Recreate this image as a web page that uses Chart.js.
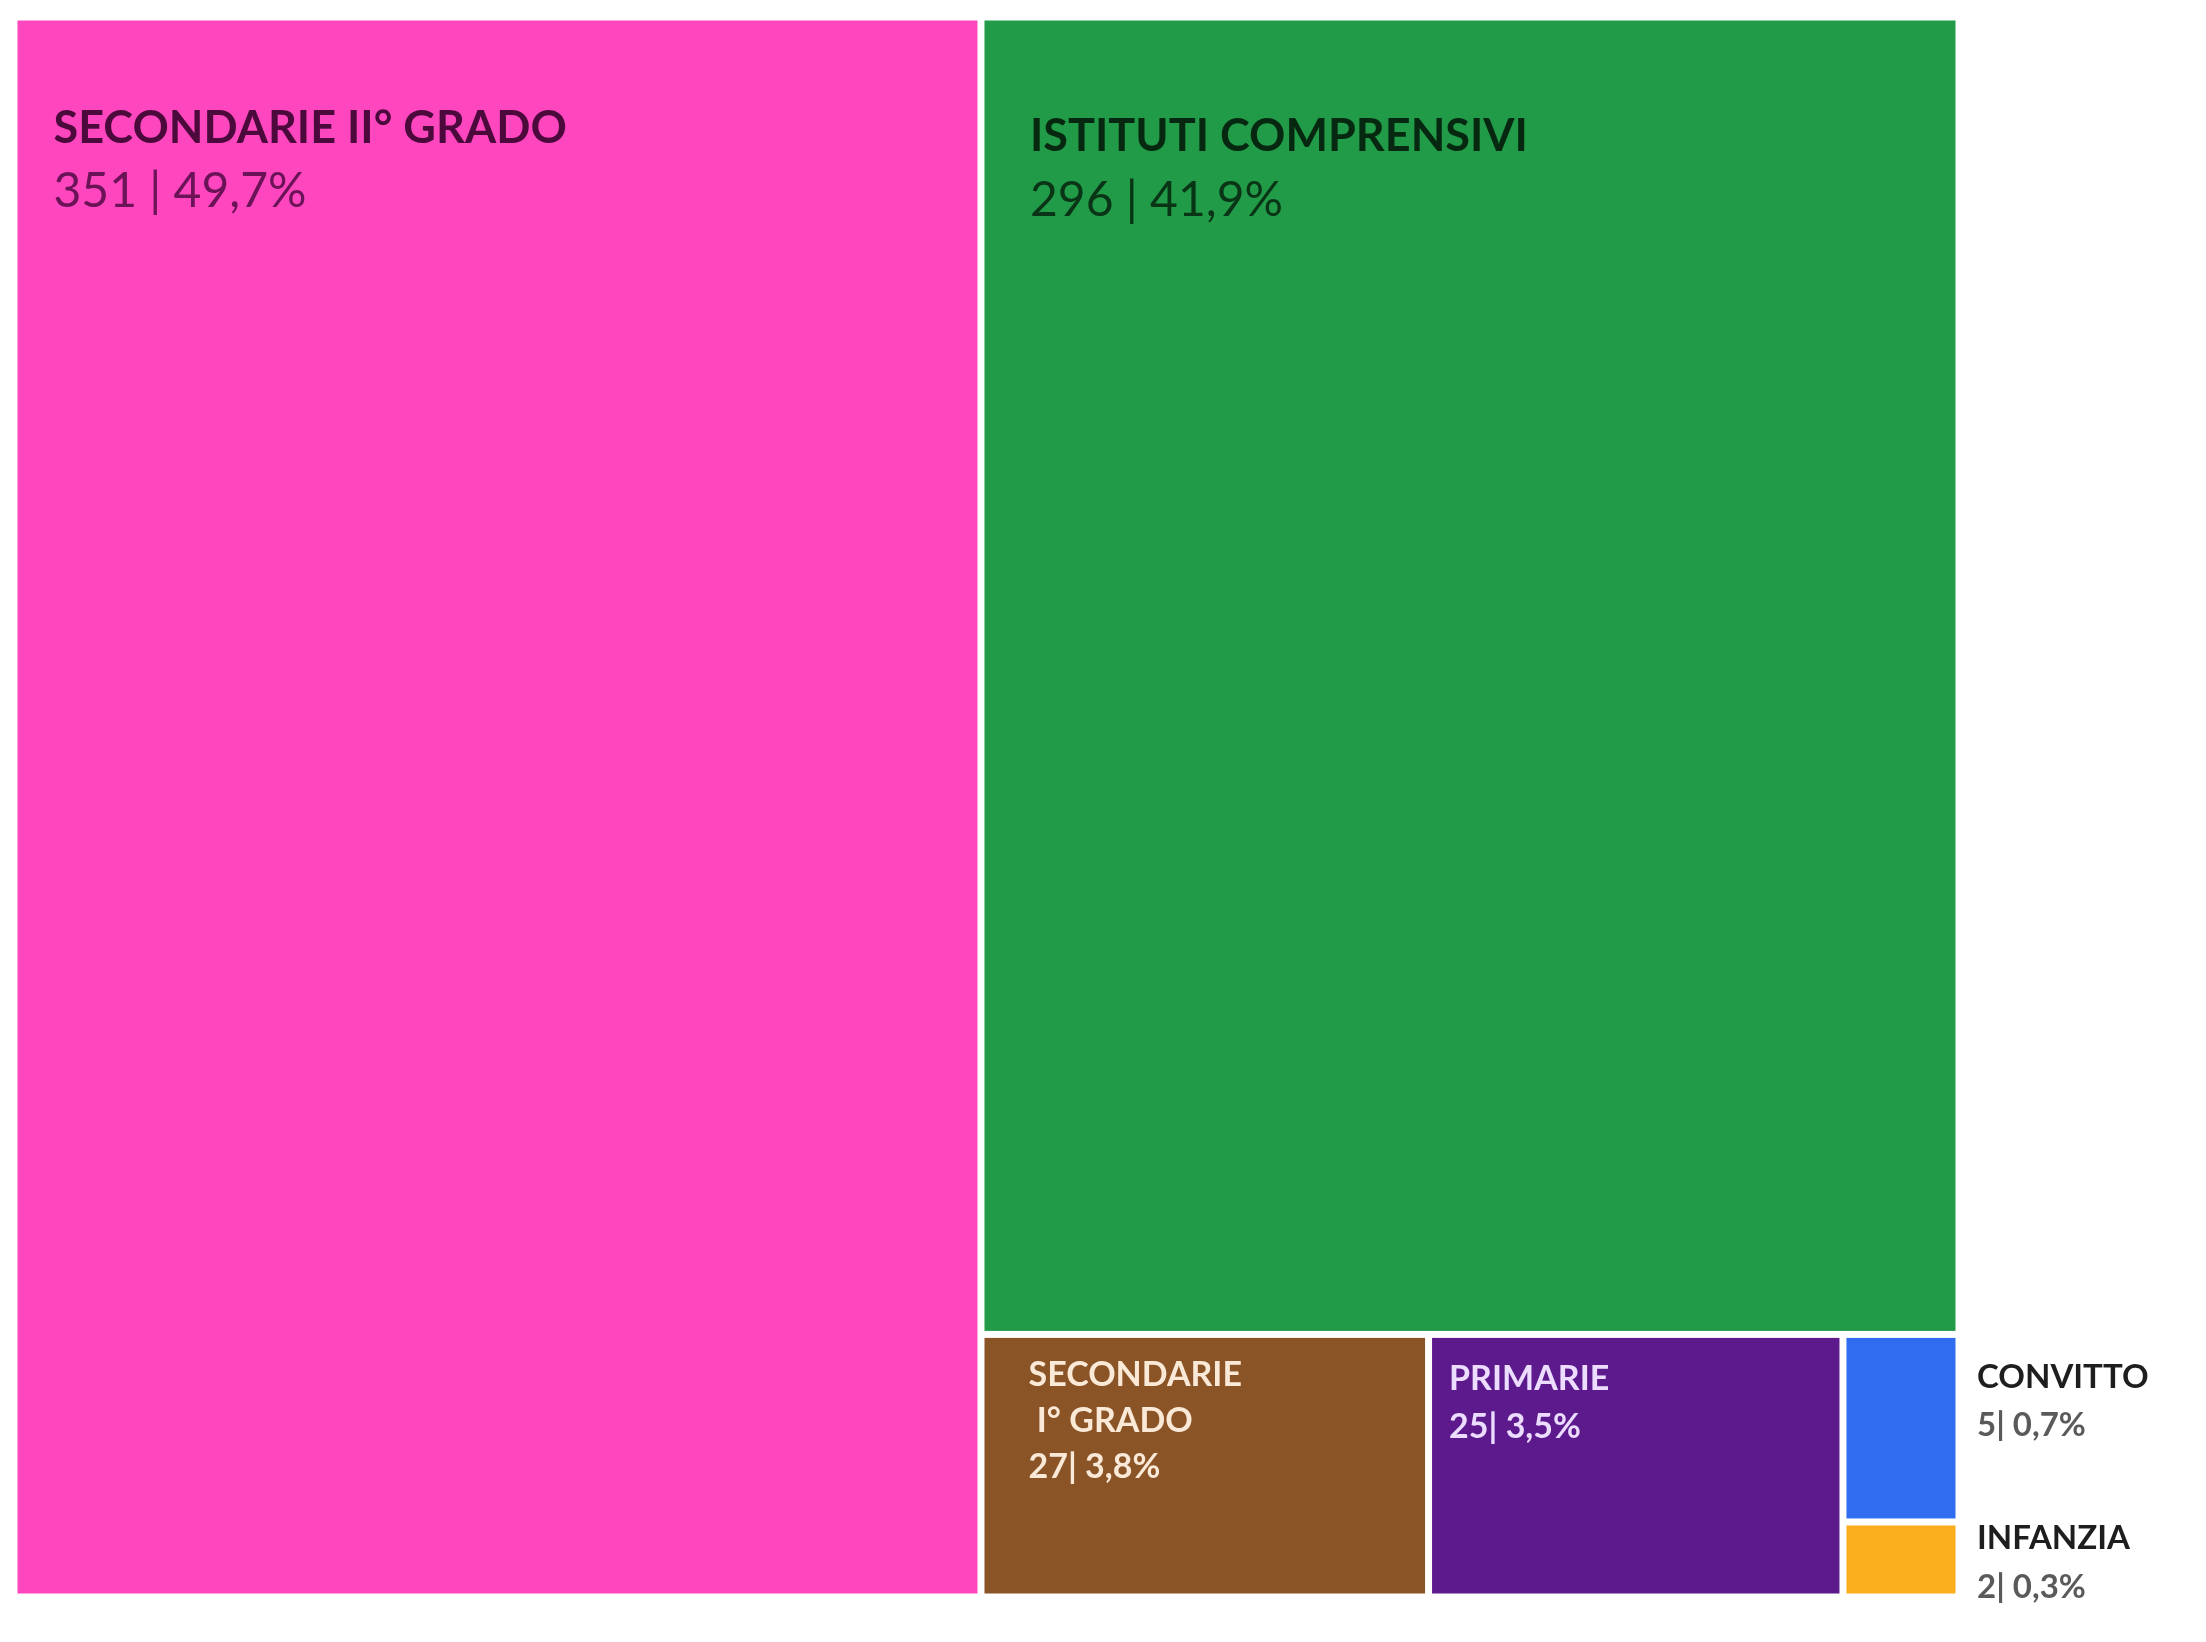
<!DOCTYPE html>
<html>
<head>
<meta charset="utf-8">
<script src="https://cdn.jsdelivr.net/npm/chart.js@4.4.1/dist/chart.umd.min.js"></script>
<style>
  html, body { margin: 0; padding: 0; background: #ffffff; }
  #wrap { width: 2206px; height: 1642px; position: relative; }
</style>
</head>
<body>
<div id="wrap"><canvas id="c"></canvas></div>
<script>
// ---- DATA ----
const categories = ['SECONDARIE II° GRADO', 'ISTITUTI COMPRENSIVI', 'SECONDARIE I° GRADO', 'PRIMARIE', 'CONVITTO', 'INFANZIA'];
const counts = [351, 296, 27, 25, 5, 2];
const percentLabels = ['49,7%', '41,9%', '3,8%', '3,5%', '0,7%', '0,3%'];
const titleLines = [['SECONDARIE II° GRADO'], ['ISTITUTI COMPRENSIVI'], ['SECONDARIE', ' I° GRADO'], ['PRIMARIE'], ['CONVITTO'], ['INFANZIA']];
const valueSeparators = [' | ', ' | ', '| ', '| ', '| ', '| '];

// ---- STYLE ----
const fillColors = ['#fe47bf', '#219b47', '#8a5427', '#5c1a8d', '#2f6cf0', '#fbae1d'];
const titleColors = ['#4b0a3b', '#062810', '#fbe9d8', '#ecdcff', '#1e1e1e', '#1e1e1e'];
const valueColors = ['#6a1357', '#0a3416', '#fbe9d8', '#ecdcff', '#5a5a5a', '#5a5a5a'];
const labelStyle = [
  { inside: true,  dx: 36,   dy: 122, gap: 64, size: 45, valueSize: 48, valueWeight: '400' },
  { inside: true,  dx: 45.5, dy: 130, gap: 65, size: 45, valueSize: 48, valueWeight: '400' },
  { inside: true,  dx: 44,   dy: 48,  gap: 46, size: 34, valueSize: 34, valueWeight: '700' },
  { inside: true,  dx: 17,   dy: 52,  gap: 48, size: 34, valueSize: 34, valueWeight: '700' },
  { inside: false, dx: 21.5, dy: 50,  gap: 48, size: 33, valueSize: 33, valueWeight: '700' },
  { inside: false, dx: 21.5, dy: 24,  gap: 49, size: 33, valueSize: 33, valueWeight: '700' }
];
const GAP = 7;

// squarified treemap layout in a [0,aspect] x [0,1] space
function worst(row, side) {
  const sum = row.reduce((s, a) => s + a.area, 0);
  const mx = Math.max(...row.map(a => a.area));
  const mn = Math.min(...row.map(a => a.area));
  return Math.max(side * side * mx / (sum * sum), (sum * sum) / (side * side * mn));
}
function squarify(values, aspect) {
  const total = values.reduce((s, v) => s + v, 0);
  let rest = values.map((v, i) => ({ i, area: v / total * aspect }));
  let r = { x: 0, y: 0, w: aspect, h: 1 };
  const out = [];
  while (rest.length) {
    const side = Math.min(r.w, r.h);
    let row = [rest[0]];
    let k = 1;
    while (k < rest.length) {
      const cand = row.concat(rest[k]);
      if (worst(cand, side) <= worst(row, side)) { row = cand; k++; } else break;
    }
    const sum = row.reduce((s, a) => s + a.area, 0);
    if (r.w >= r.h) {
      const t = sum / r.h; let yy = r.y;
      row.forEach(a => { const hh = a.area / t; out[a.i] = { x: r.x, y: yy, w: t, h: hh }; yy += hh; });
      r = { x: r.x + t, y: r.y, w: r.w - t, h: r.h };
    } else {
      const t = sum / r.w; let xx = r.x;
      row.forEach(a => { const ww = a.area / t; out[a.i] = { x: xx, y: r.y, w: ww, h: t }; xx += ww; });
      r = { x: r.x, y: r.y + t, w: r.w, h: r.h - t };
    }
    rest = rest.slice(row.length);
  }
  return out.map(o => ({ x0: o.x / aspect, x1: (o.x + o.w) / aspect, y0: o.y, y1: o.y + o.h }));
}

const treemapPlugin = {
  id: 'treemap',
  afterDatasetsDraw(chart) {
    const { ctx, chartArea, scales } = chart;
    const aspect = chartArea.width / chartArea.height;
    const rects = squarify(counts, aspect);
    ctx.save();
    rects.forEach((r, i) => {
      const left = scales.x.getPixelForValue(r.x0) + GAP / 2;
      const right = scales.x.getPixelForValue(r.x1) - GAP / 2;
      const top = scales.y.getPixelForValue(r.y0) + GAP / 2;
      const bottom = scales.y.getPixelForValue(r.y1) - GAP / 2;
      ctx.fillStyle = fillColors[i];
      ctx.fillRect(left, top, right - left, bottom - top);

      const st = labelStyle[i];
      const tx = st.inside ? left + st.dx : right + st.dx;
      let ty = top + st.dy;
      ctx.textAlign = 'left';
      ctx.textBaseline = 'alphabetic';
      ctx.font = `700 ${st.size}px Lato`;
      ctx.fillStyle = titleColors[i];
      titleLines[i].forEach(line => { ctx.fillText(line, tx, ty); ty += st.gap; });
      ctx.font = `${st.valueWeight} ${st.valueSize}px Lato`;
      ctx.fillStyle = valueColors[i];
      ctx.fillText(counts[i] + valueSeparators[i] + percentLabels[i], tx, ty);
    });
    ctx.restore();
  }
};

const totalCount = counts.reduce((s, v) => s + v, 0);
new Chart(document.getElementById('c'), {
  type: 'scatter',
  data: {
    datasets: [{
      label: 'Scuole',
      data: categories.map((c, i) => ({ x: counts[i] / totalCount, y: 0 })),
      pointRadius: 0,
      pointHoverRadius: 0
    }]
  },
  options: {
    responsive: true,
    maintainAspectRatio: false,
    animation: false,
    devicePixelRatio: 1,
    layout: { padding: { left: 14, top: 17, right: 247, bottom: 45 } },
    plugins: { legend: { display: false }, tooltip: { enabled: false } },
    scales: {
      x: { type: 'linear', min: 0, max: 1, display: false },
      y: { type: 'linear', min: 0, max: 1, reverse: true, display: false }
    }
  },
  plugins: [treemapPlugin]
});
</script>
</body>
</html>
